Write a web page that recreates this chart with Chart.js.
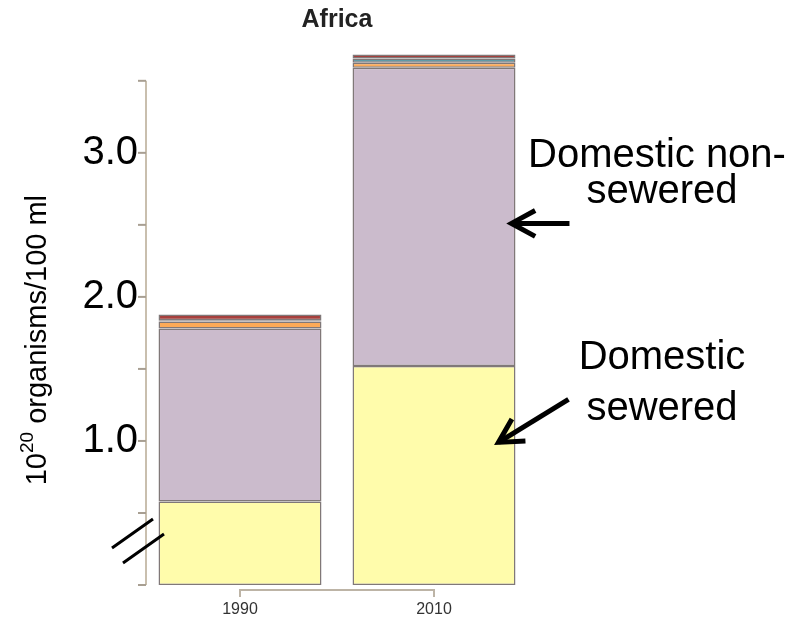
<!DOCTYPE html>
<html>
<head>
<meta charset="utf-8">
<script src="https://cdn.jsdelivr.net/npm/chart.js@4/dist/chart.umd.min.js"></script>
<style>
  html, body { margin: 0; padding: 0; background: #ffffff; }
  #wrap { width: 799px; height: 620px; }
</style>
</head>
<body>
<div id="wrap"><canvas id="chart" width="799" height="620"></canvas></div>
<script>
// Faecal coliform loads, Africa (10^20 organisms / 100 ml)
const years = ['1990', '2010'];
const domesticSewered    = [0.58, 1.52];
const domesticNonSewered = [1.20, 2.07];
const minorOrange        = [0.05, 0.035];
const minorBlue          = [0.008, 0.03];
const minorRed           = [0.04, 0.028];

const yTickValues   = [0, 0.5, 1, 1.5, 2, 2.5, 3, 3.5];
const yLabelledTicks = [1, 2, 3];

const FONT = '"Liberation Sans", Arial, Helvetica, sans-serif';
const EDGE = 'rgba(85,75,75,0.75)';

function arrow(ctx, tx, ty, fx, fy) {
  // shaft from (fx,fy) to tip (tx,ty) with an open V head
  const ang = Math.atan2(fy - ty, fx - tx);
  const len = 27, spread = 0.5;
  ctx.beginPath();
  ctx.moveTo(fx, fy);
  ctx.lineTo(tx, ty);
  ctx.stroke();
  ctx.beginPath();
  ctx.moveTo(tx + len * Math.cos(ang + spread), ty + len * Math.sin(ang + spread));
  ctx.lineTo(tx, ty);
  ctx.lineTo(tx + len * Math.cos(ang - spread), ty + len * Math.sin(ang - spread));
  ctx.stroke();
}

const decorations = {
  id: 'decorations',
  afterDraw(chart) {
    const { ctx, chartArea, scales: { x, y } } = chart;
    ctx.save();

    // y axis: line from 0 to 3.5 with tick marks
    const axisX = chartArea.left + 3;
    ctx.strokeStyle = '#c9bfae';
    ctx.lineWidth = 2;
    ctx.beginPath();
    ctx.moveTo(axisX, y.getPixelForValue(0));
    ctx.lineTo(axisX, y.getPixelForValue(3.5));
    ctx.stroke();
    ctx.strokeStyle = '#a89f92';
    yTickValues.forEach(v => {
      const py = y.getPixelForValue(v);
      ctx.beginPath();
      ctx.moveTo(axisX, py);
      ctx.lineTo(axisX - 8, py);
      ctx.stroke();
    });

    // x axis: bracket joining the two year ticks
    const bY = chartArea.bottom + 5;
    const x0 = x.getPixelForValue(0), x1 = x.getPixelForValue(1);
    ctx.strokeStyle = '#bdb4a6';
    ctx.lineWidth = 2;
    ctx.beginPath();
    ctx.moveTo(x0, bY + 7);
    ctx.lineTo(x0, bY);
    ctx.lineTo(x1, bY);
    ctx.lineTo(x1, bY + 7);
    ctx.stroke();

    // axis break marks
    const by = y.getPixelForValue(0.25);
    ctx.strokeStyle = '#000000';
    ctx.lineWidth = 3;
    ctx.beginPath();
    ctx.moveTo(axisX - 34, by - 1);
    ctx.lineTo(axisX + 7, by - 30);
    ctx.moveTo(axisX - 23, by + 14);
    ctx.lineTo(axisX + 18, by - 15);
    ctx.stroke();

    // y axis title with superscript exponent
    const cy = y.getPixelForValue(1.7);
    ctx.translate(38, cy);
    ctx.rotate(-Math.PI / 2);
    ctx.fillStyle = '#000000';
    ctx.textBaseline = 'middle';
    ctx.textAlign = 'left';
    const big = '29px ' + FONT, small = '19px ' + FONT;
    ctx.font = big;
    const wBase = ctx.measureText('10').width;
    const wRest = ctx.measureText(' organisms/100 ml').width;
    ctx.font = small;
    const wSup = ctx.measureText('20').width;
    let px = -(wBase + wSup + wRest) / 2;
    ctx.font = big;
    ctx.fillText('10', px, 0);
    px += wBase;
    ctx.font = small;
    ctx.fillText('20', px, -10);
    px += wSup;
    ctx.font = big;
    ctx.fillText(' organisms/100 ml', px, 0);
    ctx.setTransform(1, 0, 0, 1, 0, 0);

    // source annotations
    const bar2010 = chart.getDatasetMeta(1).data[1];
    const barRight = bar2010.x + bar2010.width / 2;
    ctx.fillStyle = '#000000';
    ctx.font = '40px ' + FONT;
    ctx.textAlign = 'center';
    ctx.textBaseline = 'middle';
    ctx.fillText('Domestic non-', chartArea.right + 126, y.getPixelForValue(2.975));
    ctx.fillText('sewered', chartArea.right + 131, y.getPixelForValue(2.73));
    ctx.fillText('Domestic', chartArea.right + 131, y.getPixelForValue(1.575));
    ctx.fillText('sewered', chartArea.right + 131, y.getPixelForValue(1.22));

    ctx.strokeStyle = '#000000';
    ctx.lineWidth = 5;
    ctx.lineCap = 'butt';
    ctx.lineJoin = 'miter';
    const t1x = barRight - 4, t1y = y.getPixelForValue(2.51);
    arrow(ctx, t1x, t1y, t1x + 58, t1y);
    const t2x = barRight - 17, t2y = y.getPixelForValue(0.99);
    arrow(ctx, t2x, t2y, t2x + 70, t2y - 43);

    ctx.restore();
  }
};

const seg = (label, data, color) => ({
  label, data,
  backgroundColor: color,
  borderColor: EDGE,
  borderWidth: 1.5,
  borderSkipped: false,
  categoryPercentage: 1.0,
  barPercentage: 0.84
});

new Chart(document.getElementById('chart'), {
  type: 'bar',
  data: {
    labels: years,
    datasets: [
      seg('Domestic sewered', domesticSewered, '#fffcab'),
      seg('Domestic non-sewered', domesticNonSewered, '#cbbbcc'),
      seg('Minor source A', minorOrange, '#fcaa57'),
      seg('Minor source B', minorBlue, '#5f9ba7'),
      seg('Minor source C', minorRed, '#a6403d')
    ]
  },
  options: {
    responsive: false,
    animation: false,
    layout: { padding: { left: 0, right: 268, top: 0, bottom: 0 } },
    plugins: {
      legend: { display: false },
      tooltip: { enabled: false },
      title: {
        display: true,
        text: 'Africa',
        fullSize: false,
        color: '#222222',
        font: { family: FONT, size: 25, weight: 'bold' },
        padding: { top: 5, bottom: 17 }
      }
    },
    scales: {
      x: {
        stacked: true,
        grid: { display: false, drawTicks: false },
        border: { display: false },
        ticks: { color: '#333333', font: { family: FONT, size: 16 }, padding: 15 },
        afterFit(scale) { scale.height = 35; }
      },
      y: {
        stacked: true,
        min: 0,
        max: 3.7,
        grid: { display: false, drawTicks: false },
        border: { display: false },
        afterBuildTicks(scale) { scale.ticks = yTickValues.map(v => ({ value: v })); },
        afterFit(scale) { scale.width = 143; },
        ticks: {
          autoSkip: false,
          color: '#000000',
          padding: 5,
          font: { family: FONT, size: 40 },
          callback: v => yLabelledTicks.includes(v) ? v.toFixed(1) : ''
        }
      }
    }
  },
  plugins: [decorations]
});
</script>
</body>
</html>
